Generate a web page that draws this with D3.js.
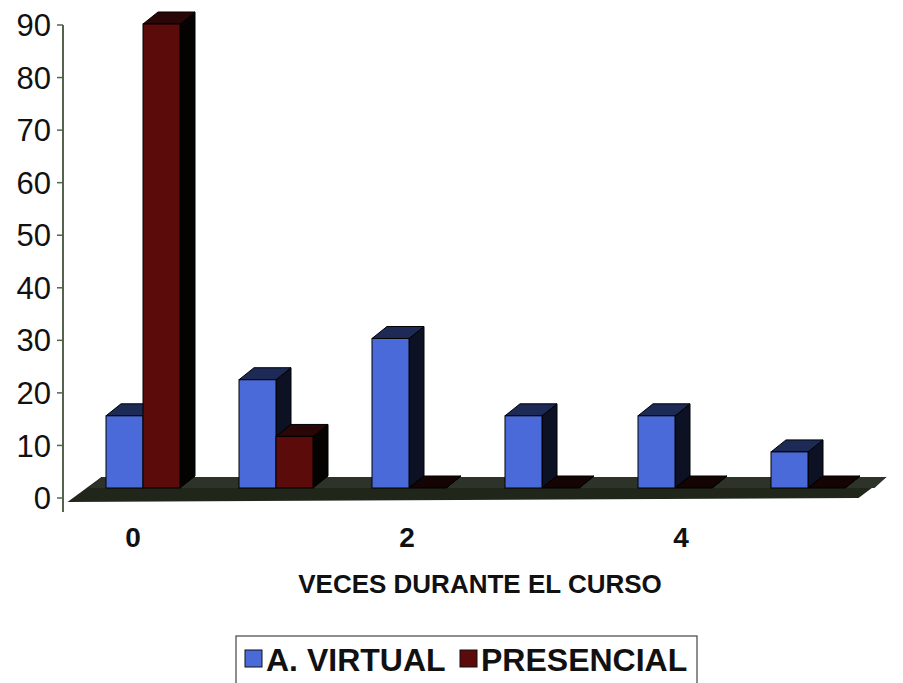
<!DOCTYPE html>
<html><head><meta charset="utf-8">
<script src="https://cdn.jsdelivr.net/npm/d3@7"></script>
<style>body{margin:0;background:#fff}svg{display:block}</style>
</head><body>
<svg id="c" width="903" height="683"></svg>
<script>
const categories = ["0","1","2","3","4","5"];
const xTickLabels = ["0","2","4"];
const seriesNames = ["A. VIRTUAL","PRESENCIAL"];
const virtualVals = [14,21,29,14,14,7];
const presencialVals = [90,10,0,0,0,0];
const yTicks = [0,10,20,30,40,50,60,70,80,90];
const xTitle = "VECES DURANTE EL CURSO";

const svg = d3.select("#c");
const font = "'Liberation Sans', Arial, sans-serif";
const depth = {dx:15, dy:-12};

const x = d3.scaleBand().domain(categories).range([76.5, 874.5]).paddingInner(0.4436).paddingOuter(0.2218);
const xs = d3.scaleBand().domain(seriesNames).range([0, x.bandwidth()]);
const xLab = d3.scalePoint().domain(categories).range([133, 818]);
const yAxis = d3.scaleLinear().domain([0,90]).range([498,25]);
const yBar = d3.scaleLinear().domain([0,90]).range([488,24]);

const colors = {
  "A. VIRTUAL": {front:"#4a6ad9", side:"#0c1224", top:"#1d2a55"},
  "PRESENCIAL": {front:"#5c0b0b", side:"#050202", top:"#2a0606"}
};

// floor
const r0 = x.range()[0], r1 = x.range()[1], yb = yBar(0);
const floorPts = [[r0-9, yb+14],[r1-16, yb+10],[r1+12, yb-11],[r0+25, yb-11]];
svg.append("polygon").attr("points", floorPts.map(p=>p.join(",")).join(" "))
  .attr("fill","#20271a");
svg.append("polygon").attr("points", [[r0+25,yb-11],[r1+12,yb-11],[r1,yb],[r0+12,yb]].map(p=>p.join(",")).join(" "))
  .attr("fill","#2d3329");

// y axis
svg.append("line").attr("x1",63).attr("x2",63).attr("y1",yAxis(90)).attr("y2",512)
  .attr("stroke","#55634e").attr("stroke-width",2);
const yg = svg.append("g");
yTicks.forEach(t=>{
  yg.append("line").attr("x1",57).attr("x2",63).attr("y1",yAxis(t)).attr("y2",yAxis(t))
    .attr("stroke","#55634e").attr("stroke-width",1.5);
  yg.append("text").attr("x",51).attr("y",yAxis(t)).attr("dy","0.36em")
    .attr("text-anchor","end").attr("font-family",font).attr("font-size",31).attr("fill","#111").text(t);
});

// bars
const data = [];
categories.forEach((c,i)=>{
  data.push({cat:c, s:"A. VIRTUAL", v:virtualVals[i]});
  data.push({cat:c, s:"PRESENCIAL", v:presencialVals[i]});
});
const bg = svg.append("g");
data.forEach(d=>{
  const x0 = x(d.cat)+xs(d.s), w = xs.bandwidth();
  const yt = yBar(d.v), ybot = yBar(0);
  const col = colors[d.s];
  const g = bg.append("g");
  const zero = d.v === 0;
  // side
  g.append("polygon").attr("points",[[x0+w,ybot],[x0+w,yt],[x0+w+depth.dx,yt+depth.dy],[x0+w+depth.dx,ybot+depth.dy]].map(p=>p.join(",")).join(" "))
    .attr("fill",col.side).attr("stroke","#000").attr("stroke-width",1);
  // top
  g.append("polygon").attr("points",[[x0,yt],[x0+w,yt],[x0+w+depth.dx,yt+depth.dy],[x0+depth.dx,yt+depth.dy]].map(p=>p.join(",")).join(" "))
    .attr("fill", zero ? "#140404" : col.top).attr("stroke","#000").attr("stroke-width",1);
  // front
  if (!zero) g.append("rect").attr("x",x0).attr("y",yt).attr("width",w).attr("height",ybot-yt)
    .attr("fill",col.front).attr("stroke","#000").attr("stroke-width",1);
});

// x tick labels
xTickLabels.forEach(l=>{
  svg.append("text").attr("x",xLab(l)).attr("y",537).attr("dy","0.36em")
    .attr("text-anchor","middle").attr("font-family",font).attr("font-weight","bold")
    .attr("font-size",28).attr("fill","#111").text(l);
});

// x title
svg.append("text").attr("x",480).attr("y",584).attr("dy","0.36em").attr("text-anchor","middle")
  .attr("font-family",font).attr("font-weight","bold").attr("font-size",26).attr("fill","#111").text(xTitle);

// legend
svg.append("rect").attr("x",236).attr("y",636).attr("width",461).attr("height",54)
  .attr("fill","#fff").attr("stroke","#444").attr("stroke-width",1.2);
const legX = [245, 460];
seriesNames.forEach((s,i)=>{
  svg.append("rect").attr("x",legX[i]).attr("y",650).attr("width",17).attr("height",17)
    .attr("fill",colors[s].front).attr("stroke","#111").attr("stroke-width",1);
  svg.append("text").attr("x",legX[i]+21).attr("y",659).attr("dy","0.36em")
    .attr("font-family",font).attr("font-weight","bold").attr("font-size",32).attr("fill","#111").text(s);
});
</script>
</body></html>
